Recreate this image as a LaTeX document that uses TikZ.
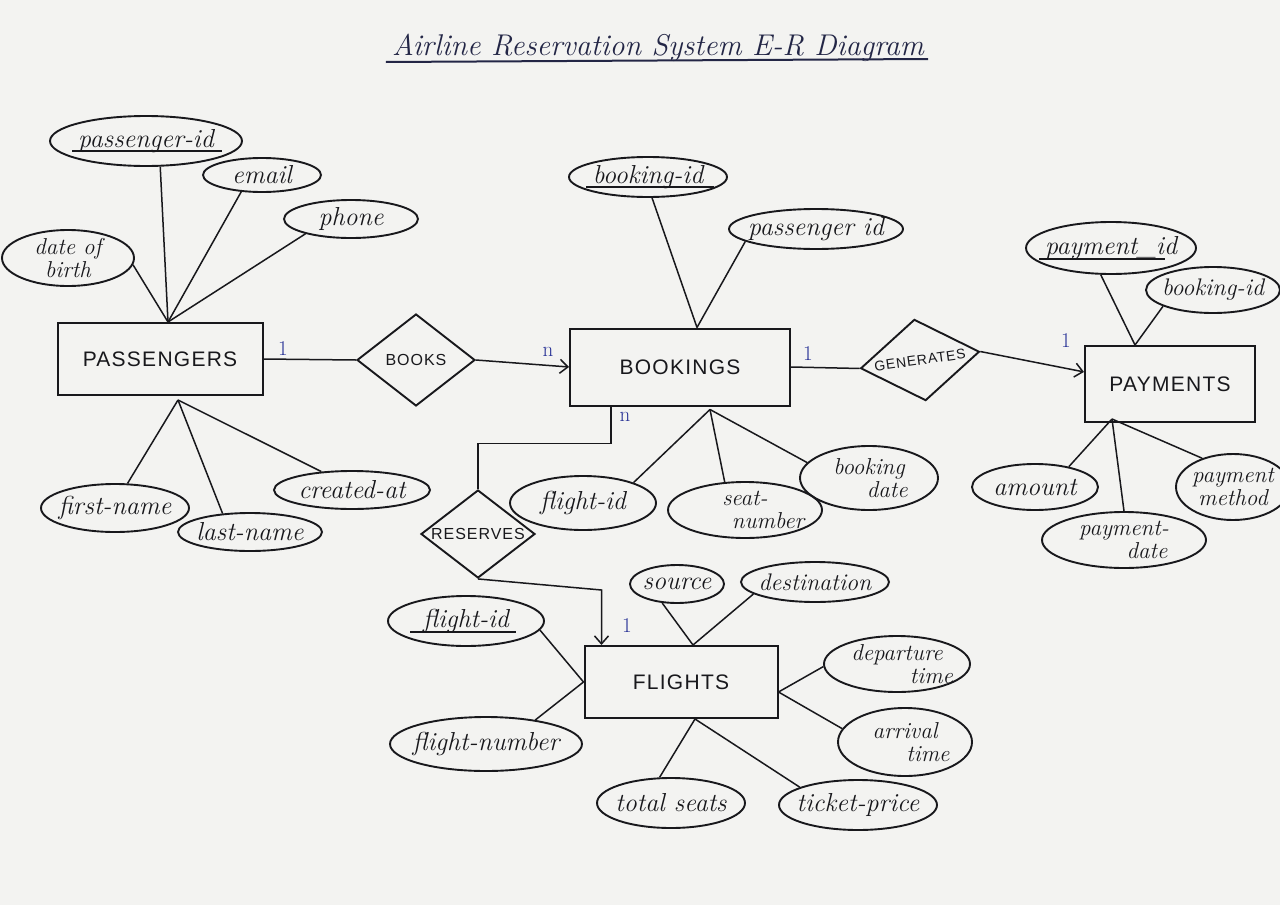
\documentclass[tikz,border=0pt]{standalone}
\usepackage{fontspec}
\newfontfamily\entfont[LetterSpace=6]{Liberation Sans}
\usetikzlibrary{shapes.geometric,arrows.meta,calc}
\definecolor{paper}{RGB}{243,243,241}
\definecolor{ink}{RGB}{24,24,28}
\definecolor{blueink}{RGB}{40,50,150}
\definecolor{titleink}{RGB}{35,38,70}
\begin{document}
\begin{tikzpicture}[x=1pt,y=-1pt,
  sz/.style 2 args={minimum width=#1pt, minimum height=#2pt},
  entity/.style={draw=ink, line width=2pt, rectangle, inner sep=0pt, text=ink,
    font=\entfont\fontsize{21}{24}\selectfont},
  rel/.style={draw=ink, line width=1.9pt, diamond, aspect=1.4, inner sep=0pt, text=ink,
    font=\entfont\fontsize{16}{18}\selectfont},
  attr/.style={draw=ink, line width=1.9pt, ellipse, inner xsep=-9pt, inner ysep=-4pt,
    text=ink, align=center, font=\itshape\fontsize{26}{24}\selectfont},
  attrsm/.style={attr, font=\itshape\fontsize{24}{22}\selectfont},
  attrtwo/.style={attr, inner ysep=-8pt, font=\itshape\fontsize{23}{23}\selectfont},
  link/.style={draw=ink, line width=1.5pt},
  arr/.style={link, -{Straight Barb[length=8pt,width=14pt,line width=1.5pt]}},
  card/.style={text=blueink, font=\fontsize{21}{22}\selectfont, inner sep=0pt},
  keyline/.style={draw=ink, line width=1.6pt},
]
\useasboundingbox (0,0) rectangle (1280,905);
\fill[paper] (0,0) rectangle (1280,905);
\clip (0,0) rectangle (1280,905);

% title
\node[font=\itshape\fontsize{30}{32}\selectfont, text=titleink, inner sep=0pt, anchor=base]
  (title) at (658,55) {Airline Reservation System E-R Diagram};
\draw[titleink, line width=2pt] ($(title.base west)+(-6,7)$) -- ($(title.base east)+(4,4)$);

% entities
\node[entity, sz={205}{72}] (pass) at (160,359) {PASSENGERS};
\node[entity, sz={220}{77}] (book) at (680,367) {BOOKINGS};
\node[entity, sz={170}{76}] (pay) at (1170,384) {PAYMENTS};
\node[entity, sz={193}{72}] (fl) at (681,682) {FLIGHTS};

% relationships
\node[rel, sz={118}{92}] (books) at (416,360) {BOOKS};
\node[rel, sz={120}{82}, rotate=8, font=\entfont\fontsize{14}{16}\selectfont] (gen) at (920,360) {GENERATES};
\node[rel, sz={114}{88}, font=\entfont\fontsize{16}{17}\selectfont] (res) at (478,534) {RESERVES};

% passenger attributes
\node[attr, sz={192}{50}] (pid) at (146,141) {passenger-id};
\draw[keyline] ($(pid.center)+(-74,10)$) -- ($(pid.center)+(76,10)$);
\node[attr, sz={118}{34}] (email) at (262,175) {email};
\node[attr, sz={134}{38}] (phone) at (351,219) {phone};
\node[attrtwo, sz={132}{56}] (dob) at (68,258) {date of\\birth};
\node[attr, sz={148}{48}] (first) at (115,508) {first-name};
\node[attr, sz={144}{38}] (last) at (250,532) {last-name};
\node[attr, sz={156}{38}] (created) at (352,490) {created-at};

% booking attributes
\node[attr, sz={158}{40}] (bid) at (648,177) {booking-id};
\draw[keyline] ($(bid.center)+(-62,10)$) -- ($(bid.center)+(66,10)$);
\node[attr, sz={174}{40}] (bpid) at (816,229) {passenger id};
\node[attr, sz={146}{54}] (bfid) at (583,503) {flight-id};
\node[attrtwo, sz={154}{56}] (seat) at (745,510) {seat-\\\hspace*{2em}number};
\node[attrtwo, sz={138}{64}] (bdate) at (869,478) {booking\\\hspace*{1.6em}date};

% payment attributes
\node[attr, sz={170}{52}] (payid) at (1111,248) {payment\_id};
\draw[keyline] ($(payid.center)+(-72,11)$) -- ($(payid.center)+(54,11)$);
\node[attrsm, sz={134}{46}] (pbid) at (1213,290) {booking-id};
\node[attr, sz={126}{46}] (amount) at (1035,487) {amount};
\node[attrtwo, sz={164}{56}] (pdate) at (1124,540) {payment-\\\hspace*{2em}date};
\node[attrtwo, sz={114}{66}] (pmeth) at (1233,487) {payment\\method};

% flight attributes
\node[attr, sz={156}{50}] (ffid) at (466,621) {flight-id};
\draw[keyline] ($(ffid.center)+(-56,11)$) -- ($(ffid.center)+(50,11)$);
\node[attr, sz={192}{54}] (fnum) at (486,744) {flight-number};
\node[attr, sz={94}{38}] (src) at (677,584) {source};
\node[attrsm, sz={148}{40}] (dest) at (815,582) {destination};
\node[attrtwo, sz={146}{56}] (dep) at (897,664) {departure\\\hspace*{3em}time};
\node[attrtwo, sz={134}{68}] (arr) at (905,742) {arrival\\\hspace*{2em}time};
\node[attr, sz={148}{50}] (tot) at (671,803) {total seats};
\node[attr, sz={158}{50}] (tick) at (858,805) {ticket-price};

% convergence points
\coordinate (pT) at ($(pass.north)+(8,0)$);
\coordinate (pB) at ($(pass.south)+(18,4)$);
\coordinate (bT) at ($(book.north)+(17,0)$);
\coordinate (bB) at ($(book.south)+(30,3)$);
\coordinate (yT) at ($(pay.north)+(-35,0)$);
\coordinate (yB) at ($(pay.south)+(-58,-4)$);
\coordinate (fT) at ($(fl.north)+(12,0)$);
\coordinate (fL) at (fl.west);
\coordinate (fR) at ($(fl.east)+(0,10)$);
\coordinate (fB) at ($(fl.south)+(14,0)$);

% attribute links
\draw[link] (pT) -- (pid.299);
\draw[link] (pT) -- (email.219);
\draw[link] (pT) -- (phone.198);
\draw[link] (pT) -- (dob.354);
\draw[link] (pB) -- (first.63);
\draw[link] (pB) -- (last.146);
\draw[link] (pB) -- (created.149);
\draw[link] (bT) -- (bid.281);
\draw[link] (bT) -- (bpid.190);
\draw[link] (bB) -- (bfid.22);
\draw[link] (bB) -- (seat.126);
\draw[link] (bB) -- (bdate.166);
\draw[link] (yT) -- (payid.249);
\draw[link] (yT) -- (pbid.198);
\draw[link] (yB) -- (amount.31);
\draw[link] (yB) -- (pdate.90);
\draw[link] (yB) -- (pmeth.137);
\draw[link] (fT) -- (src.232);
\draw[link] (fT) -- (dest.191);
\draw[link] (fL) -- (ffid.353);
\draw[link] (fL) -- (fnum.26);
\draw[link] (fR) -- (dep.182);
\draw[link] (fR) -- (arr.168);
\draw[link] (fB) -- (tot.114);
\draw[link] (fB) -- (tick.163);

% relationship links
\draw[link] (pass.east) -- (books.west);
\draw[arr] (books.east) -- (book.west);
\draw[link] (book.east) -- (gen.west);
\draw[arr] (gen.east) -- (pay.172);
\coordinate (bR) at ($(book.south west)+(42,0)$);
\draw[link] (bR) -- ++(0,37) -| (res.north);
\coordinate (rC) at ($(fl.north west)+(18,-55)$);
\draw[arr] (res.south) -- (rC) -- (rC |- fl.north);

% cardinalities
\node[card] (c1) at (283,349) {1};
\node[card] (c2) at (548,352) {n};
\node[card] (c3) at (808,354) {1};
\node[card] (c4) at (1066,341) {1};
\node[card] (c5) at (625,417) {n};
\node[card] (c6) at (627,626) {1};
\end{tikzpicture}
\end{document}
